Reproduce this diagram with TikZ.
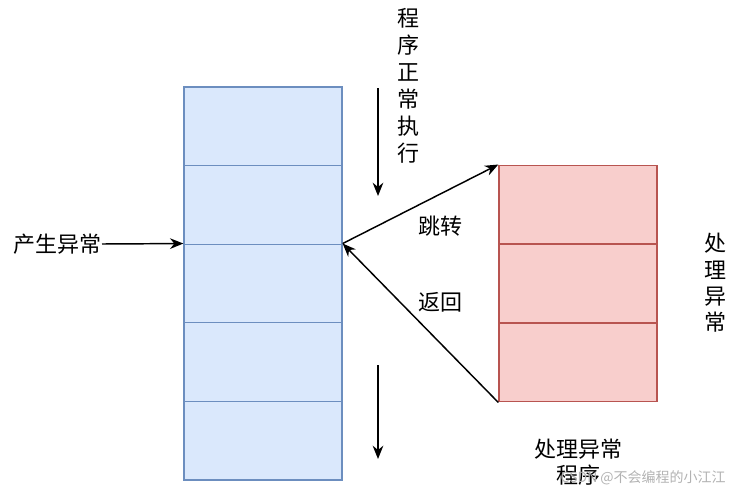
\documentclass[tikz,border=0pt]{standalone}
\usepackage{fontspec}
\setmainfont{Noto Sans CJK SC}
\usetikzlibrary{arrows.meta}

\definecolor{blaufuell}{HTML}{DAE8FC}
\definecolor{blaurand}{HTML}{6C8EBF}
\definecolor{rotfuell}{HTML}{F8CECC}
\definecolor{rotrand}{HTML}{B85450}

\begin{document}
\begin{tikzpicture}[x=0.75pt, y=-0.75pt, >={Stealth[length=10pt,width=8pt]},
    zelle/.style={draw, line width=1pt, minimum width=118.5pt, minimum height=58.95pt, inner sep=0pt},
    blauzelle/.style={zelle, fill=blaufuell, draw=blaurand},
    rotzelle/.style={zelle, fill=rotfuell, draw=rotrand},
    pfeil/.style={->, line width=1.1pt},
    beschriftung/.style={font=\fontsize{16.5}{20}\selectfont, inner sep=0pt, align=center}]

    \useasboundingbox (0,0) rectangle (734,493);

    % Stapel links (Hauptprogramm)
    \foreach \i/\y in {1/126.3,2/204.9,3/283.5,4/362.1,5/440.7}
        \node[blauzelle] (b\i) at (263,\y) {};

    % Stapel rechts (Behandlung)
    \foreach \i/\y in {1/204.5,2/283.5,3/362.5}
        \node[rotzelle] (r\i) at (578,\y) {};

    % Ausloeser links
    \node[beschriftung, anchor=east] (ausloeser) at (102,244) {产生异常};
    \draw[pfeil] (ausloeser.east) -- (b3.north west);

    % normaler Ablauf
    \node[beschriftung, font=\fontsize{16.5}{20.2}\selectfont] (ablauf) at (408,86) {程\\序\\正\\常\\执\\行};
    \coordinate (lauf1a) at (378,88);
    \coordinate (lauf1e) at (378,196);
    \draw[pfeil] (lauf1a) -- (lauf1e);
    \coordinate (lauf2a) at (378,365);
    \coordinate (lauf2e) at (378,459);
    \draw[pfeil] (lauf2a) -- (lauf2e);

    % Sprung und Rueckkehr
    \draw[pfeil] (b3.north east) -- (r1.north west);
    \node[beschriftung] (sprung) at (440,226) {跳转};
    \draw[pfeil] (r3.south west) -- (b3.north east);
    \node[beschriftung] (rueck) at (440,302) {返回};

    % Beschriftung rechts
    \node[beschriftung, font=\fontsize{16.5}{19.7}\selectfont] (seite) at (715,283) {处\\理\\异\\常};
    \node[beschriftung, font=\fontsize{16.5}{19.5}\selectfont] (unten) at (578,462) {处理异常\\程序};

    % Wasserzeichen
    \node[font=\fontsize{10.5}{12}\selectfont, text=black!30, anchor=east, inner sep=0pt] (marke) at (726,478) {CSDN @不会编程的小江江};

\end{tikzpicture}
\end{document}
